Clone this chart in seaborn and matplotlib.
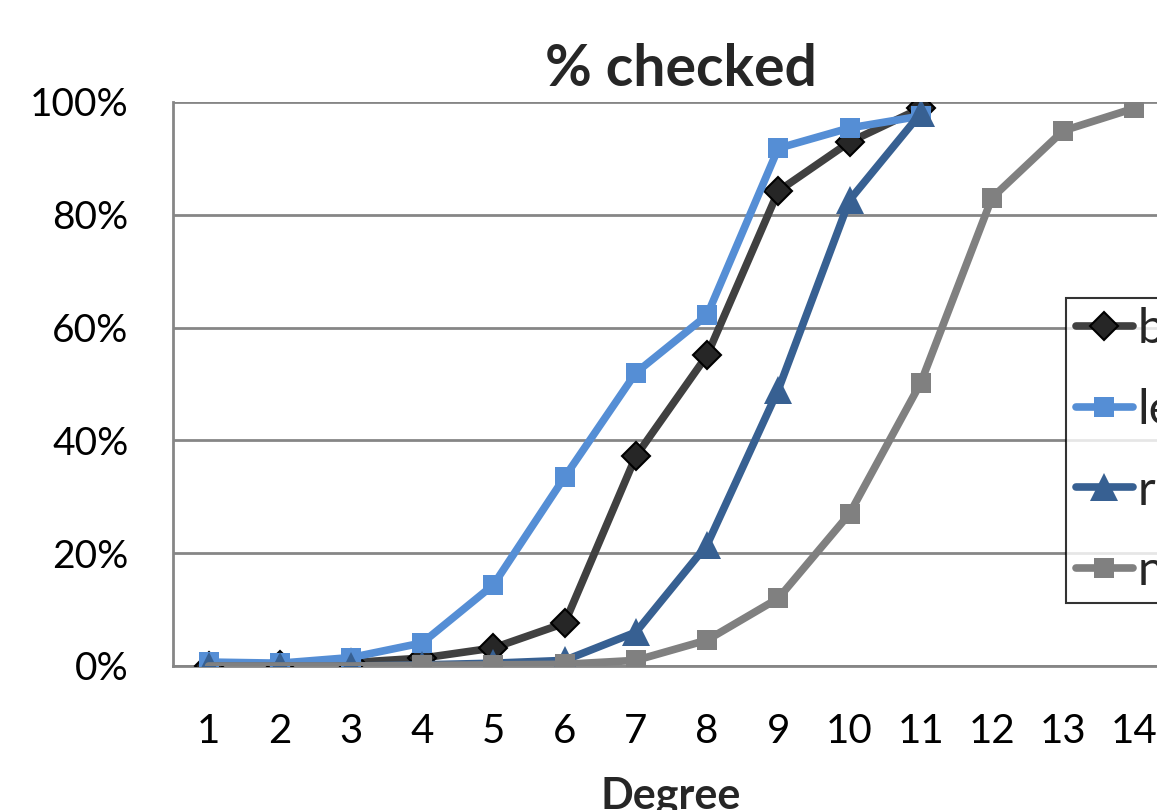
import matplotlib
matplotlib.use("Agg")
import matplotlib.pyplot as plt
import seaborn as sns
import pandas as pd
import numpy as np

degrees = list(range(1, 15))
both = [0.0, 0.2, 0.6, 1.4, 3.2, 7.6, 37.2, 55.1, 84.2, 92.9, 98.9]
left = [0.7, 0.5, 1.5, 4.1, 14.4, 33.5, 52.0, 62.2, 91.8, 95.4, 97.5]
right = [0.0, 0.0, 0.0, 0.2, 0.5, 1.0, 6.0, 21.5, 49.0, 82.6, 98.0]
none = [0.0, 0.0, 0.0, 0.1, 0.2, 0.3, 1.0, 4.6, 12.0, 27.0, 50.2, 83.0, 94.9, 98.9]
series_names = ["both", "left", "right", "none"]
yticks = [0, 20, 40, 60, 80, 100]
ytick_labels = ["0%", "20%", "40%", "60%", "80%", "100%"]

sns.set_theme(style="white")
plt.rcParams["font.family"] = ["Lato", "DejaVu Sans"]

W, H = 1157, 810
fig = plt.figure(figsize=(W / 100, H / 100), dpi=100)
ax = fig.add_axes([173 / W, (H - 666) / H, 997 / W, 564 / H])

frames = []
for name, vals in zip(series_names, [both, left, right, none]):
    frames.append(pd.DataFrame({"Degree": degrees[:len(vals)], "pct": vals, "series": name}))
df = pd.concat(frames, ignore_index=True)

styles = {
    "both": dict(color="#404040", marker="D", ms=14, mfc="#262626", mec="black", mew=1.5),
    "left": dict(color="#558ED5", marker="s", ms=14, mfc="#558ED5", mec="#558ED5", mew=0),
    "right": dict(color="#376092", marker="^", ms=20, mfc="#376092", mec="#376092", mew=0),
    "none": dict(color="#808080", marker="s", ms=14, mfc="#808080", mec="#808080", mew=0),
}
for i, name in enumerate(series_names):
    st = styles[name]
    sub = df[df["series"] == name]
    kw = {}
    if name == "none":
        kw["markevery"] = list(range(3, len(sub)))
    sns.lineplot(data=sub, x="Degree", y="pct", ax=ax, color=st["color"], linewidth=5.5,
                 marker=st["marker"], markersize=st["ms"], markerfacecolor=st["mfc"],
                 markeredgecolor=st["mec"], markeredgewidth=st["mew"], label=name,
                 solid_capstyle="round", solid_joinstyle="round", zorder=3 + i, **kw)

ax.set_xlim(0.5, 14.5)
ax.set_ylim(0, 100)
ax.set_yticks(yticks)
ax.set_yticklabels(ytick_labels)
ax.set_xticks(degrees)
ax.set_xticklabels([str(d) for d in degrees])
ax.set_xticks(np.arange(0.5, 15, 1.0), minor=True)
ax.tick_params(axis="x", which="major", length=0, pad=34, labelsize=29, colors="black")
ax.tick_params(axis="x", which="minor", length=11, width=2, color="#868686", direction="out")
ax.tick_params(axis="y", which="major", length=10, width=2, color="#868686", direction="out",
               pad=22, labelsize=28, labelcolor="black")
ax.yaxis.grid(True, color="#868686", linewidth=2)
ax.xaxis.grid(False)
ax.set_axisbelow(True)
for s in ["top", "right"]:
    ax.spines[s].set_visible(False)
for s in ["left", "bottom"]:
    ax.spines[s].set_color("#868686")
    ax.spines[s].set_linewidth(2)
ax.set_xlabel("")
ax.set_ylabel("")

leg = ax.legend(loc="lower left", bbox_to_anchor=(1066 / W, (H - 603) / H),
                bbox_transform=fig.transFigure, borderaxespad=0, frameon=True,
                fancybox=False, edgecolor="black", fontsize=35, labelspacing=0.75,
                handlelength=1.17, handletextpad=0.1, borderpad=0.2)
leg.get_frame().set_linewidth(1.5)
leg.set_zorder(20)

fig.text(681 / W, 1 - 86 / H, "% checked", ha="center", va="baseline", fontsize=41,
         fontweight="bold")
fig.text(671 / W, 1 - 809 / H, "Degree", ha="center", va="baseline", fontsize=31,
         fontweight="bold")

fig.savefig("out.png", dpi=100)
